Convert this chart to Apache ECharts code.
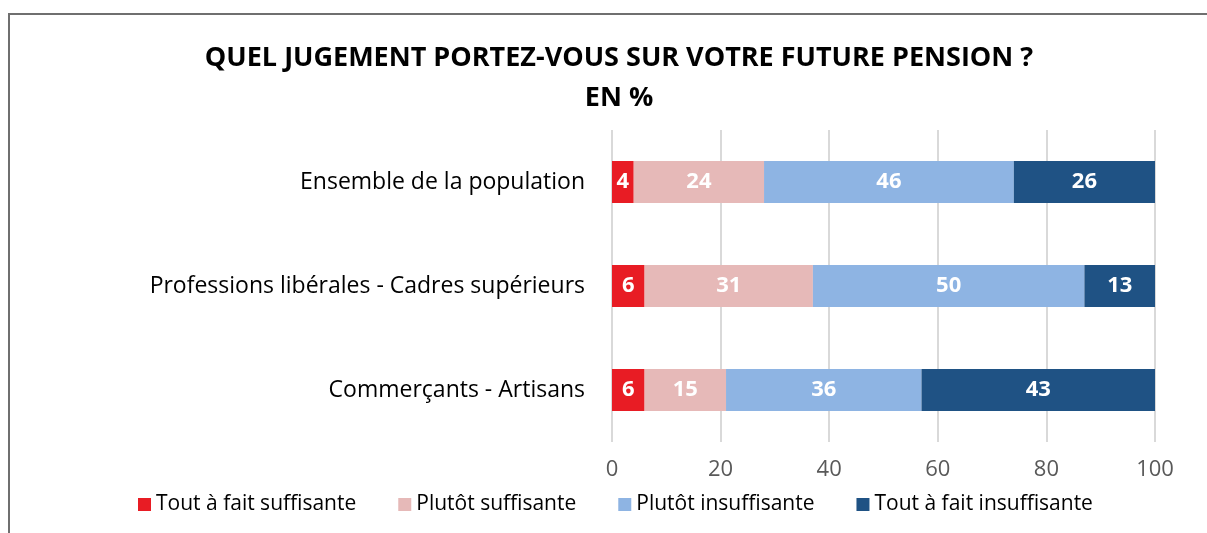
<!DOCTYPE html>
<html lang="fr">
<head>
  <meta charset="UTF-8">
  <script src="https://cdn.jsdelivr.net/npm/echarts@6/dist/echarts.min.js"></script>
  <title>Future pension</title>
  <style>
    html, body { margin: 0; padding: 0; background: #fff; }
    #main { width: 1207px; height: 533px; }
  </style>
</head>
<body>
  <div id="main"></div>
  <script>
    var categories = ['Ensemble de la population', 'Professions libérales - Cadres supérieurs', 'Commerçants - Artisans'];
    var seriesNames = ['Tout à fait suffisante', 'Plutôt suffisante', 'Plutôt insuffisante', 'Tout à fait insuffisante'];
    var toutSuffisante = [4, 6, 6];
    var plutotSuffisante = [24, 31, 15];
    var plutotInsuffisante = [46, 50, 36];
    var toutInsuffisante = [26, 13, 43];
    var colors = ['#E81C24', '#E6B9B8', '#8EB4E3', '#1F5284'];

    var font = '"Open Sans", sans-serif';
    var chart = echarts.init(document.getElementById('main'));

    var values = [toutSuffisante, plutotSuffisante, plutotInsuffisante, toutInsuffisante];
    var series = values.map(function (vals, i) {
      return {
        name: seriesNames[i],
        type: 'bar',
        stack: 'total',
        barWidth: 42,
        data: vals,
        itemStyle: { color: colors[i] },
        label: {
          show: true,
          color: '#fff',
          fontWeight: 'bold',
          fontSize: 22,
          fontFamily: font
        }
      };
    });

    chart.setOption({
      title: {
        text: 'QUEL JUGEMENT PORTEZ-VOUS SUR VOTRE FUTURE PENSION ?\nEN %',
        left: 614,
        textAlign: 'center',
        top: 33,
        textStyle: { fontSize: 27, fontWeight: 'bold', color: '#000', fontFamily: font, lineHeight: 40 }
      },
      graphic: [{
        type: 'rect',
        shape: { x: 9, y: 14, width: 1300, height: 700 },
        style: { fill: 'none', stroke: '#6f6f6f', lineWidth: 2 },
        silent: true
      }],
      legend: {
        bottom: 13,
        left: 133,
        itemWidth: 13,
        itemHeight: 13,
        itemGap: 42,
        icon: 'rect',
        textStyle: { fontSize: 21, color: '#000', fontFamily: font },
        data: seriesNames
      },
      grid: { left: 612, right: 52, top: 130, bottom: 91 },
      xAxis: {
        type: 'value',
        min: 0,
        max: 100,
        interval: 20,
        axisLine: { show: false },
        axisTick: { show: false },
        splitLine: { lineStyle: { color: '#d9d9d9', width: 2 } },
        axisLabel: { color: '#595959', fontSize: 22, fontFamily: font, margin: 17 }
      },
      yAxis: {
        type: 'category',
        inverse: true,
        data: categories,
        axisLine: { show: false },
        axisTick: { show: false },
        axisLabel: { color: '#000', fontSize: 23, fontFamily: font, margin: 27 }
      },
      series: series
    });
  </script>
</body>
</html>
